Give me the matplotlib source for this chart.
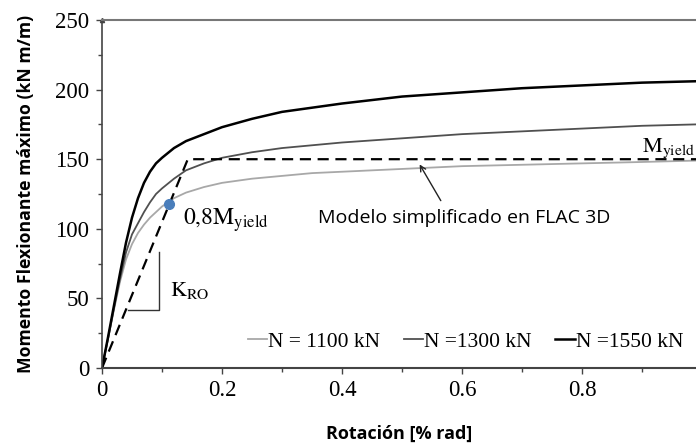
import matplotlib
matplotlib.use("Agg")
import matplotlib.pyplot as plt
from matplotlib.ticker import MultipleLocator, FixedLocator

# ---- data ----
rot = [0, 0.01, 0.02, 0.03, 0.04, 0.05, 0.06, 0.07, 0.08, 0.09, 0.10, 0.12,
       0.14, 0.17, 0.20, 0.25, 0.30, 0.35, 0.40, 0.50, 0.60, 0.70, 0.80, 0.90, 0.99]
m_1100 = [0, 21, 42, 62, 78, 89, 97, 103, 108, 112, 116, 122,
          126, 130, 133, 136, 138, 140, 141, 143, 145, 146, 147, 148, 149]
m_1300 = [0, 21, 43, 64, 83, 96, 104, 112, 119, 125, 129, 136,
          142, 147, 151, 155, 158, 160, 162, 165, 168, 170, 172, 174, 175]
m_1550 = [0, 22, 45, 68, 90, 108, 122, 133, 141, 147, 151, 158,
          163, 168, 173, 179, 184, 187, 190, 195, 198, 201, 203, 205, 206]
labels = ["N = 1100 kN", "N =1300 kN", "N =1550 kN"]

model_x = [0, 0.143, 0.99]
model_y = [0, 150, 150]
yield_pt_x = [0.112]
yield_pt_y = [117.5]
kro_x = [0.043, 0.095, 0.095]
kro_y = [41.7, 41.7, 83]

xticks = [0, 0.2, 0.4, 0.6, 0.8]
xticklabels = ["0", "0.2", "0.4", "0.6", "0.8"]
yticks = [0, 50, 100, 150, 200, 250]

plt.rcParams['mathtext.fontset'] = 'stix'
serif = 'Liberation Serif'
sans = 'Open Sans'

fig = plt.figure(figsize=(6.96, 4.47), dpi=100)
ax = fig.add_axes([102/696, 79/447, 1 - 102/696, (368-20)/447])

ax.plot(rot, m_1100, color='#a8a8a8', lw=1.3, label=labels[0])
ax.plot(rot, m_1300, color='#505050', lw=1.3, label=labels[1])
ax.plot(rot, m_1550, color='#000000', lw=1.8, label=labels[2])
ax.plot(model_x, model_y, color='black', lw=1.6, dashes=(5, 3))
ax.plot(kro_x, kro_y, color='#333333', lw=1.0)
ax.plot(yield_pt_x, yield_pt_y, 'o', color='#4a7ebb', ms=7, zorder=5)

ax.set_xlim(0, 0.99)
ax.set_ylim(0, 250)
ax.xaxis.set_major_locator(FixedLocator(xticks))
ax.set_xticklabels(xticklabels)
ax.xaxis.set_minor_locator(MultipleLocator(0.1))
ax.yaxis.set_major_locator(FixedLocator(yticks))
ax.yaxis.set_minor_locator(MultipleLocator(25))
ax.tick_params(which='major', direction='out', length=4, width=1, colors='#444444',
               labelcolor='black', labelsize=16.5, pad=5)
ax.tick_params(which='minor', direction='out', length=3, width=1, colors='#444444')
for lab in ax.get_xticklabels() + ax.get_yticklabels():
    lab.set_fontfamily(serif)

ax.spines['right'].set_visible(False)
ax.spines['top'].set_color('#777777')
ax.spines['top'].set_linewidth(1.5)
ax.spines['left'].set_color('#444444')
ax.spines['bottom'].set_color('#444444')
ax.spines['left'].set_linewidth(1.2)
ax.spines['bottom'].set_linewidth(1.5)
ax.plot([0], [250], marker='^', color='#444444', ms=3, clip_on=False)

ax.set_xlabel("Rotación [% rad]", fontfamily=sans, fontweight='bold', fontsize=13, labelpad=17)
ax.set_ylabel("Momento Flexionante máximo (kN m/m)", fontfamily=sans, fontweight='bold',
              fontsize=12.7, labelpad=15)

ax.text(0.135, 103, r"$\mathrm{0{,}8M_{yield}}$", fontsize=17, va='baseline', ha='left')
ax.text(0.9, 155, r"$\mathrm{M_{yield}}$", fontsize=16, va='baseline', ha='left')
ax.text(0.113, 52, r"$\mathrm{K_{RO}}$", fontsize=16, va='baseline', ha='left')
ax.annotate("Modelo simplificado en FLAC 3D", xy=(0.527, 148), xytext=(0.36, 108),
            fontfamily=sans, fontsize=14, va='center', ha='left')
ax.annotate("", xy=(0.527, 148), xytext=(0.567, 118.5),
            arrowprops=dict(arrowstyle='->', color='#222222', lw=1.0))

ax.legend(loc='center left', bbox_to_anchor=(0.245, 19/250), ncol=3, frameon=False,
          handlelength=0.9, handletextpad=0.05, columnspacing=1.1,
          prop={'family': serif, 'size': 15.5}, borderaxespad=0, borderpad=0)

fig.savefig("out.png", dpi=100)
